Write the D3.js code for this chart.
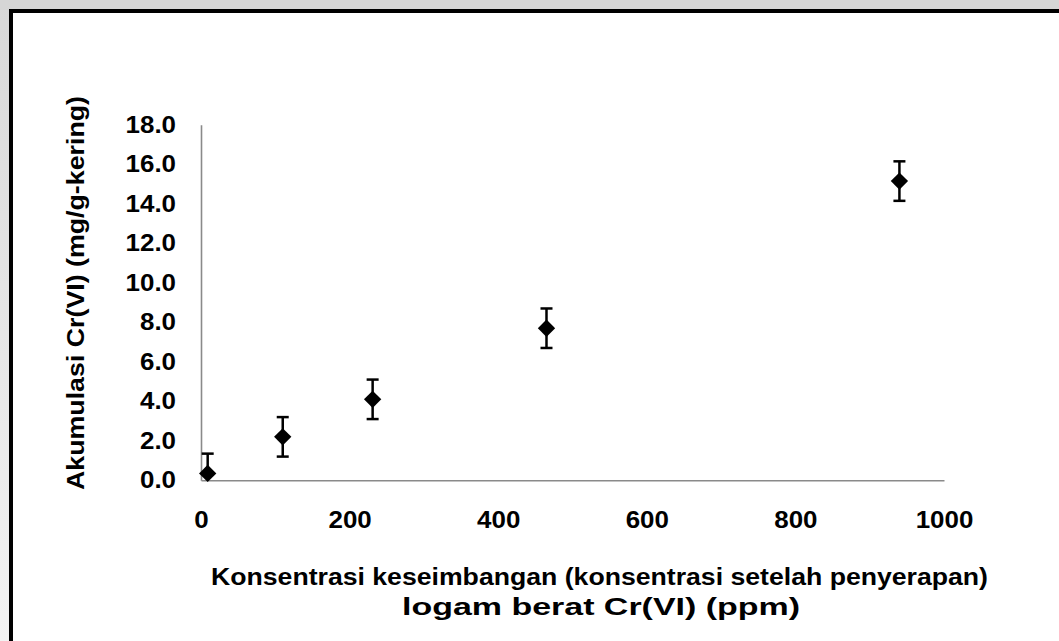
<!DOCTYPE html>
<html><head><meta charset="utf-8">
<script src="https://cdn.jsdelivr.net/npm/d3@7"></script>
<style>html,body{margin:0;padding:0;background:#fff;}svg{display:block;}</style>
</head><body>
<svg id="c" width="1059" height="641"></svg>
<script>
// Data
const concentration = [9, 110, 231, 465, 940];          // ppm (x)
const accumulation  = [0.35, 2.2, 4.1, 7.7, 15.15];     // mg/g-kering (y)
const errorSize     = [1.0, 1.0, 1.0, 1.0, 1.0];        // +/- error
const xTicks = [0, 200, 400, 600, 800, 1000];
const yTicks = [0, 2, 4, 6, 8, 10, 12, 14, 16, 18];
const xTitle1 = "Konsentrasi keseimbangan (konsentrasi setelah penyerapan)";
const xTitle2 = "logam berat Cr(VI) (ppm)";
const yTitle = "Akumulasi Cr(VI) (mg/g-kering)";

const svg = d3.select("#c");
const FONT = "'Liberation Sans', Arial, sans-serif";

// background outside the frame
const defs = svg.append("defs");
const g1 = defs.append("linearGradient").attr("id","lg").attr("x1",0).attr("y1",0).attr("x2",0).attr("y2",1);
g1.append("stop").attr("offset","0").attr("stop-color","#d8d8d8");
g1.append("stop").attr("offset","1").attr("stop-color","#f3f3f3");
svg.append("rect").attr("x",0).attr("y",0).attr("width",1059).attr("height",641).attr("fill","url(#lg)");
svg.append("rect").attr("x",0).attr("y",0).attr("width",1059).attr("height",10).attr("fill","#d6d6d6");
// chart frame
svg.append("rect").attr("x",11).attr("y",11).attr("width",1100).attr("height",700)
  .attr("fill","#fff").attr("stroke","#000").attr("stroke-width",4);

const x = d3.scaleLinear().domain([0,1000]).range([201,944]);
const y = d3.scaleLinear().domain([0,18]).range([480.3,124.8]);

const stretch = (sel, k) => sel.each(function(){
  const w = this.getComputedTextLength();
  d3.select(this).attr("textLength", w*k).attr("lengthAdjust","spacingAndGlyphs");
});

// Y axis
const ya = svg.append("g").attr("transform","translate(201,0)")
  .call(d3.axisLeft(y).tickValues(yTicks).tickSize(0).tickPadding(25).tickFormat(d3.format(".1f")));
ya.select(".domain").attr("stroke","#8a8a8a").attr("stroke-width",1.6);
ya.selectAll("text").attr("font-family",FONT).attr("font-weight","bold").attr("font-size",24)
  .attr("fill","#000").call(stretch,1.08);

// X axis
const xa = svg.append("g").attr("transform","translate(0,480.3)")
  .call(d3.axisBottom(x).tickValues(xTicks).tickSize(0).tickPadding(31).tickFormat(d3.format("d")));
xa.select(".domain").attr("stroke","#8a8a8a").attr("stroke-width",1.6);
xa.selectAll("text").attr("font-family",FONT).attr("font-weight","bold").attr("font-size",24)
  .attr("fill","#000").call(stretch,1.08);

// Error bars (clipped at axis minimum)
const eb = svg.append("g");
concentration.forEach((cx,i)=>{
  const lo = Math.max(0, accumulation[i]-errorSize[i]);
  const hi = Math.min(18, accumulation[i]+errorSize[i]);
  const px = x(cx);
  eb.append("line").attr("x1",px).attr("x2",px).attr("y1",y(lo)).attr("y2",y(hi))
    .attr("stroke","#000").attr("stroke-width",2.5);
  eb.append("line").attr("x1",px-6).attr("x2",px+6).attr("y1",y(hi)).attr("y2",y(hi))
    .attr("stroke","#000").attr("stroke-width",2.5);
  if (accumulation[i]-errorSize[i] >= 0)
    eb.append("line").attr("x1",px-6).attr("x2",px+6).attr("y1",y(lo)).attr("y2",y(lo))
      .attr("stroke","#000").attr("stroke-width",2.5);
});

// Diamond markers
svg.append("g").selectAll("path").data(concentration).join("path")
  .attr("d", d3.symbol().type(d3.symbolSquare).size(150))
  .attr("transform",(d,i)=>`translate(${x(d)},${y(accumulation[i])}) rotate(45)`)
  .attr("fill","#000");

// Titles
svg.append("text").attr("x",599.5).attr("y",585).attr("text-anchor","middle")
  .attr("font-family",FONT).attr("font-weight","bold").attr("font-size",23)
  .attr("textLength",777).attr("lengthAdjust","spacingAndGlyphs").text(xTitle1);
svg.append("text").attr("x",601).attr("y",615).attr("text-anchor","middle")
  .attr("font-family",FONT).attr("font-weight","bold").attr("font-size",23)
  .attr("textLength",398).attr("lengthAdjust","spacingAndGlyphs").text(xTitle2);
svg.append("text").attr("transform","translate(84,293) rotate(-90)").attr("text-anchor","middle")
  .attr("font-family",FONT).attr("font-weight","bold").attr("font-size",23)
  .attr("textLength",394).attr("lengthAdjust","spacingAndGlyphs").text(yTitle);
</script>
</body></html>
